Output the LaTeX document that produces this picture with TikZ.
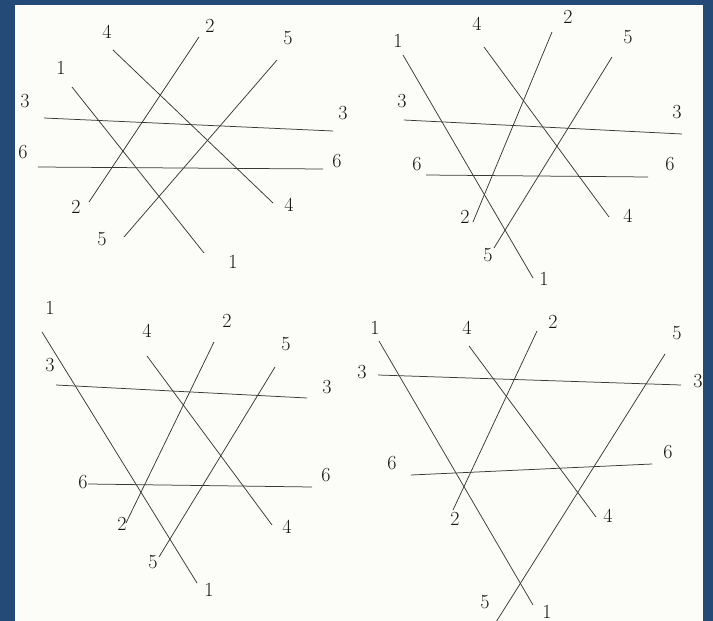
\documentclass[tikz,border=0pt]{standalone}
\definecolor{frameblue}{RGB}{36,74,120}
\definecolor{paper}{RGB}{252,252,249}
\begin{document}
\begin{tikzpicture}[x=1pt,y=-1pt,
  ln/.style={line width=0.75pt, black!78},
  lab/.style={font=\fontsize{20}{23}\selectfont, inner sep=0pt, text=black!92}]
\useasboundingbox (0,0) rectangle (713,621);
\fill[frameblue] (0,0) rectangle (713,621);
\fill[paper] (15,5) rectangle (703,621);
\begin{scope}
\clip (15,5) rectangle (703,621);
% ---------- panel A (top left)
\coordinate (A1s) at (72,87);   \coordinate (A1e) at (204,253);
\coordinate (A4s) at (113,50);  \coordinate (A4e) at (273,203);
\coordinate (A2s) at (199,37);  \coordinate (A2e) at (89,202);
\coordinate (A5s) at (277,60);  \coordinate (A5e) at (124,237);
\coordinate (A3s) at (44,118);  \coordinate (A3e) at (333,131);
\coordinate (A6s) at (38,167);  \coordinate (A6e) at (323,169);
\foreach \i in {1,...,6} {\draw[ln] (A\i s) -- (A\i e);}
\node[lab] (A1a) at (61,68) {1};   \node[lab] (A1b) at (233,262) {1};
\node[lab] (A4a) at (107,32) {4};  \node[lab] (A4b) at (289,205) {4};
\node[lab] (A2a) at (210,26) {2};  \node[lab] (A2b) at (76,207) {2};
\node[lab] (A5a) at (288,38) {5};  \node[lab] (A5b) at (102,239) {5};
\node[lab] (A3a) at (25,101) {3};  \node[lab] (A3b) at (343,113) {3};
\node[lab] (A6a) at (23,152) {6};  \node[lab] (A6b) at (337,161) {6};
% ---------- panel B (top right)
\coordinate (B1s) at (403,55);  \coordinate (B1e) at (533,278);
\coordinate (B4s) at (484,47);  \coordinate (B4e) at (609,217);
\coordinate (B2s) at (552,32);  \coordinate (B2e) at (473,222);
\coordinate (B5s) at (612,57);  \coordinate (B5e) at (494,248);
\coordinate (B3s) at (404,120); \coordinate (B3e) at (682,134);
\coordinate (B6s) at (426,175); \coordinate (B6e) at (648,177);
\foreach \i in {1,...,6} {\draw[ln] (B\i s) -- (B\i e);}
\node[lab] (B1a) at (398,41) {1};  \node[lab] (B1b) at (544,279) {1};
\node[lab] (B4a) at (477,24) {4};  \node[lab] (B4b) at (628,216) {4};
\node[lab] (B2a) at (568,17) {2};  \node[lab] (B2b) at (465,217) {2};
\node[lab] (B5a) at (628,37) {5};  \node[lab] (B5b) at (488,255) {5};
\node[lab] (B3a) at (402,101) {3}; \node[lab] (B3b) at (677,112) {3};
\node[lab] (B6a) at (417,164) {6}; \node[lab] (B6b) at (670,164) {6};
% ---------- panel C (bottom left)
\coordinate (C1s) at (42,332);  \coordinate (C1e) at (197,583);
\coordinate (C4s) at (147,356); \coordinate (C4e) at (272,525);
\coordinate (C2s) at (214,342); \coordinate (C2e) at (126,523);
\coordinate (C5s) at (275,367); \coordinate (C5e) at (159,557);
\coordinate (C3s) at (56,385);  \coordinate (C3e) at (307,398);
\coordinate (C6s) at (88,484);  \coordinate (C6e) at (312,487);
\foreach \i in {1,...,6} {\draw[ln] (C\i s) -- (C\i e);}
\node[lab] (C1a) at (50,308) {1};  \node[lab] (C1b) at (209,590) {1};
\node[lab] (C4a) at (147,331) {4}; \node[lab] (C4b) at (287,527) {4};
\node[lab] (C2a) at (227,321) {2}; \node[lab] (C2b) at (122,524) {2};
\node[lab] (C5a) at (286,344) {5}; \node[lab] (C5b) at (153,562) {5};
\node[lab] (C3a) at (50,365) {3};  \node[lab] (C3b) at (327,387) {3};
\node[lab] (C6a) at (83,482) {6};  \node[lab] (C6b) at (326,475) {6};
% ---------- panel D (bottom right)
\coordinate (D1s) at (379,341); \coordinate (D1e) at (533,605);
\coordinate (D4s) at (469,346); \coordinate (D4e) at (596,517);
\coordinate (D2s) at (537,331); \coordinate (D2e) at (453,510);
\coordinate (D5s) at (665,354); \coordinate (D5e) at (491,630);
\coordinate (D3s) at (378,375); \coordinate (D3e) at (681,385);
\coordinate (D6s) at (411,475); \coordinate (D6e) at (652,464);
\foreach \i in {1,...,6} {\draw[ln] (D\i s) -- (D\i e);}
\node[lab] (D1a) at (375,328) {1}; \node[lab] (D1b) at (547,612) {1};
\node[lab] (D4a) at (467,328) {4}; \node[lab] (D4b) at (608,516) {4};
\node[lab] (D2a) at (553,322) {2}; \node[lab] (D2b) at (455,519) {2};
\node[lab] (D5a) at (677,333) {5}; \node[lab] (D5b) at (485,602) {5};
\node[lab] (D3a) at (362,372) {3}; \node[lab] (D3b) at (698,381) {3};
\node[lab] (D6a) at (392,463) {6}; \node[lab] (D6b) at (668,452) {6};
\end{scope}
\end{tikzpicture}
\end{document}
